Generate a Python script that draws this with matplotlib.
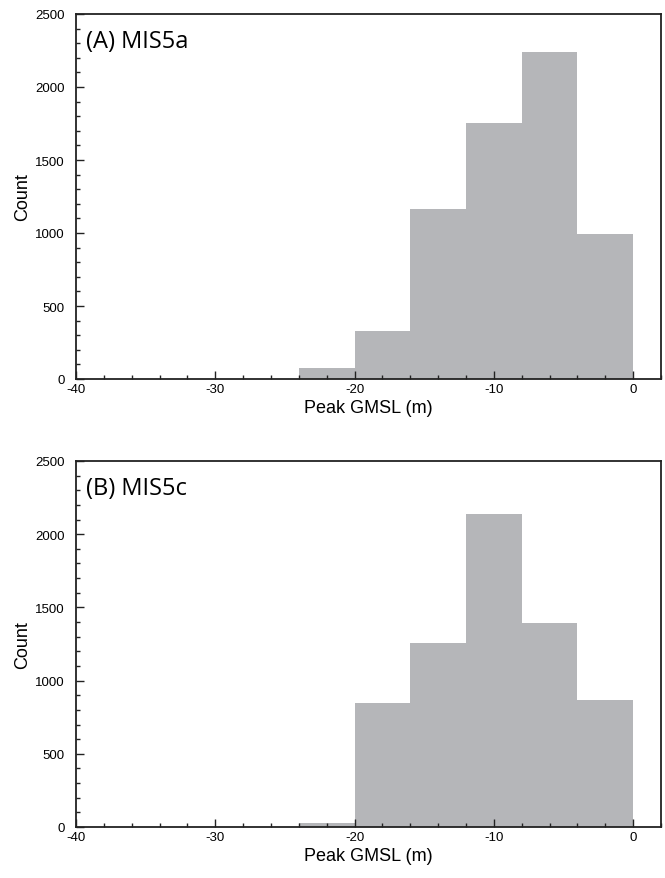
import matplotlib.pyplot as plt
from matplotlib.ticker import MultipleLocator

plt.rcParams['font.family'] = ['Liberation Sans', 'DejaVu Sans']
plt.rcParams['axes.unicode_minus'] = False

# histogram bins of peak GMSL (m), 4 m wide
bin_edges = [-24, -20, -16, -12, -8, -4, 0]
counts_mis5a = [73, 327, 1164, 1753, 2242, 993]
counts_mis5c = [30, 848, 1258, 2141, 1392, 867]
panel_labels = ["(A) MIS5a", "(B) MIS5c"]

bar_color = "#b5b6b9"

fig = plt.figure(figsize=(6.65, 8.79), dpi=100)
W, H = 665.0, 879.0
ax_a = fig.add_axes([76 / W, 1 - 380 / H, (661 - 76) / W, (380 - 15) / H])
ax_b = fig.add_axes([76 / W, 1 - 828 / H, (661 - 76) / W, (828 - 462) / H])

for ax, counts, label in zip([ax_a, ax_b], [counts_mis5a, counts_mis5c], panel_labels):
    lefts = bin_edges[:-1]
    widths = [b - a for a, b in zip(bin_edges[:-1], bin_edges[1:])]
    ax.bar(lefts, counts, width=widths, align="edge", color=bar_color,
           edgecolor="none", linewidth=0)
    ax.set_xlim(-40, 2)
    ax.set_ylim(0, 2500)
    ax.xaxis.set_major_locator(MultipleLocator(10))
    ax.xaxis.set_minor_locator(MultipleLocator(2))
    ax.yaxis.set_major_locator(MultipleLocator(500))
    ax.yaxis.set_minor_locator(MultipleLocator(100))
    ax.tick_params(which="both", direction="in", top=False, right=False,
                   width=1.0, labelsize=9.5, color="#222222")
    ax.tick_params(axis="x", which="major", length=6, pad=3)
    ax.tick_params(axis="y", which="major", length=6, pad=8)
    ax.tick_params(which="minor", length=3)
    for sp in ax.spines.values():
        sp.set_linewidth(1.3)
        sp.set_color("#222222")
    ax.set_xlabel("Peak GMSL (m)", fontsize=13, labelpad=3)
    ax.set_ylabel("Count", fontsize=13, labelpad=3)
    ax.text(0.017, 0.96, label, transform=ax.transAxes, ha="left", va="top",
            fontsize=17, family="Open Sans")

fig.savefig("out.png", dpi=100)
